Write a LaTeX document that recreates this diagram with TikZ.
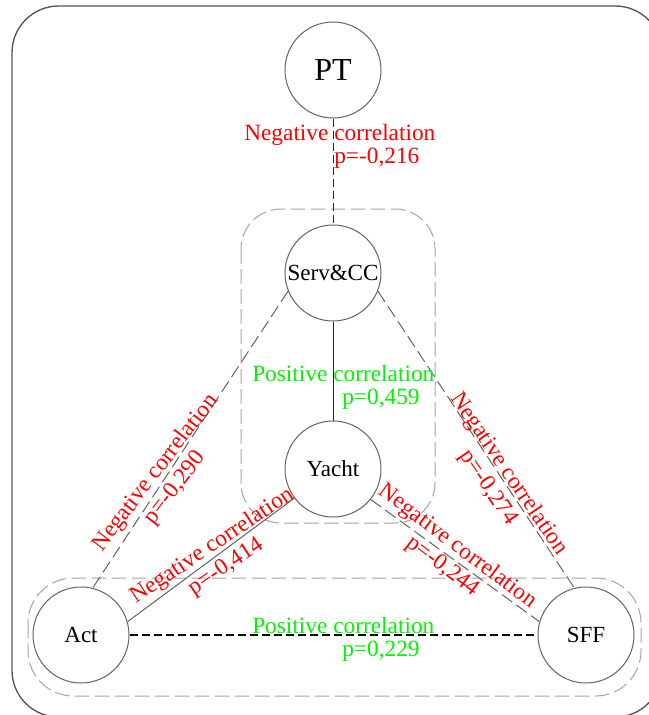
\documentclass[tikz,border=0pt]{standalone}
\usepackage{fontspec}
\setmainfont{Liberation Serif}
\definecolor{circgray}{RGB}{100,100,100}
\definecolor{conngray}{RGB}{90,90,90}
\definecolor{grpgray}{RGB}{165,165,165}
\definecolor{outergray}{RGB}{85,85,85}
\definecolor{posgreen}{RGB}{0,245,0}
\definecolor{negred}{RGB}{255,0,0}
\begin{document}
\begin{tikzpicture}[x=0.75pt,y=-0.75pt,
  circ/.style={circle,draw=circgray,line width=0.75pt,inner sep=0pt,minimum size=72pt,
    font=\fontsize{17.3}{20}\selectfont},
  outerbox/.style={draw=outergray,line width=1pt,rounded corners=35pt},
  groupbox/.style={draw=grpgray,line width=0.75pt,dash pattern=on 11pt off 4pt},
  vdash/.style={draw=black!85,line width=0.75pt,dash pattern=on 6pt off 3pt},
  vsolid/.style={draw=black!85,line width=0.75pt},
  diagdash/.style={draw=conngray,line width=0.7pt,dash pattern=on 9.5pt off 4pt},
  diagsolid/.style={draw=conngray,line width=0.7pt},
  hdash/.style={draw=black,line width=0.9pt,dash pattern=on 6pt off 3pt},
  lblh/.style={anchor=north west,inner sep=0pt,align=left,
    font=\fontsize{17.5}{17.2}\selectfont},
  lblr/.style={inner sep=0pt,align=center,text=negred,
    font=\fontsize{17.5}{18.5}\selectfont}
]
\useasboundingbox (0,0) rectangle (649,715);
\clip (0,0) rectangle (649,715);
\fill[white] (0,0) rectangle (649,715);

% outer frame and group boxes
\draw[outerbox] (12,6) rectangle (662,717);
\draw[groupbox,rounded corners=30pt] (241,209) rectangle (435,523);
\draw[groupbox,rounded corners=34pt] (28,578) rectangle (641,696);

% nodes
\node[circ,font=\fontsize{24}{28}\selectfont] (pt) at (333,70) {PT};
\node[circ] (serv) at (333,273) {Serv\&CC};
\node[circ] (yacht) at (333,469) {Yacht};
\node[circ] (act) at (81,635) {Act};
\node[circ] (sff) at (586,635) {SFF};

% connectors
\draw[vdash] (pt.south) -- (serv.north);
\draw[vsolid] (serv.south) -- (yacht.north);
\draw[diagdash] (serv.202) -- (act.76);
\draw[diagdash] (serv.338) -- (sff.104);
\draw[diagsolid] (yacht.217) -- (act.16);
\draw[diagdash] (yacht.321) -- (sff.164);
\draw[hdash] (act.east) -- (sff.west);

% horizontal labels
\node[lblh,text=negred] (lpt) at (244,124) {Negative correlation\\\hspace*{67.5pt}p=-0,216};
\node[lblh,text=posgreen] (lsy) at (252,365) {Positive correlation\\\hspace*{67.5pt}p=0,459};
\node[lblh,text=posgreen] (las) at (252,617) {Positive correlation\\\hspace*{67.5pt}p=0,229};

% rotated labels
\node[lblr,rotate=52.6] (l290) at (165.5,480.5) {Negative correlation\\p=-0,290};
\node[lblr,rotate=33.7] (l414) at (219,556.5) {Negative correlation\\p=-0,414};
\node[lblr,rotate=-55.7] (l274) at (498.5,481) {Negative correlation\\p=-0,274};
\node[lblr,rotate=-37] (l244) at (450,556.5) {Negative correlation\\p=-0,244};
\end{tikzpicture}
\end{document}
